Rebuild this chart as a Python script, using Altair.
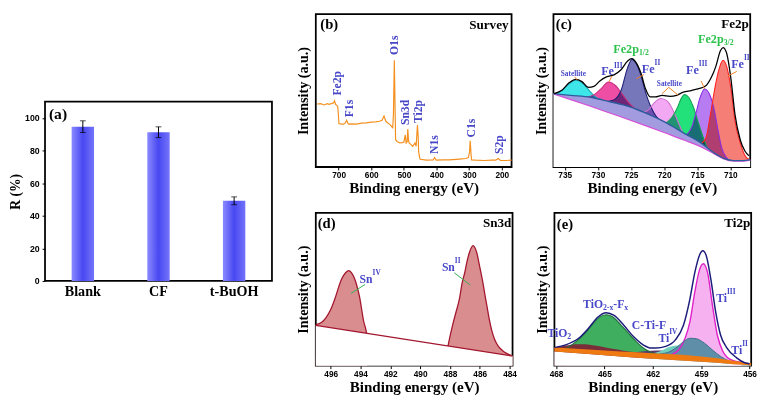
import altair as alt
import pandas as pd

SERIF = "Liberation Serif"
SANS = "Liberation Sans"
LBLUE = "#4747c8"
FRAME = alt.ViewBackground(stroke="black", strokeWidth=1.8, fill="white")

# ---------------- (a) removal efficiency ----------------
a_cats = ["Blank", "CF", "t-BuOH"]
a_vals = [94.7, 91.3, 49.2]
a_errs = [3.6, 3.3, 2.4]

# ---------------- (b) survey spectrum ----------------
b_e = [766, 755, 744, 735, 729.6, 720, 715, 712.7, 709, 706.8, 703, 701, 699, 692, 685,
       680, 675.4, 672, 669.5, 660, 646, 630, 616, 600, 586.7, 575, 566.9, 561, 555, 548,
       541, 536, 534.3, 532, 529.3, 527, 525.4, 520, 512.6, 505, 499.8, 496, 493, 490, 488,
       486, 484, 478, 473, 466, 462.4, 460, 458.4, 456, 455, 452, 450, 430.8, 410, 406,
       401, 380, 361.8, 340, 322.2, 310, 302.6, 299, 296.7, 294, 292.6, 280, 253.3, 230, 218.6,
       210.8, 204, 190, 170]
b_i = [64.7, 65, 63.7, 65, 64.3, 65.3, 66, 68, 64, 63.7, 62.3, 55, 44.7, 44, 44,
       45, 48, 45, 44, 44.3, 44, 45, 45.3, 46, 46.3, 47, 48, 52.3, 46.7, 45,
       43, 41, 39.7, 55, 109.7, 60, 28, 26, 24.7, 25, 25.7, 33, 24.7, 26, 39,
       28, 24.7, 23, 21.3, 24.7, 21.3, 35, 43, 30, 16.3, 10, 8, 7, 7.3, 9.7,
       7, 7.3, 7.3, 7.8, 8.3, 8.7, 9.7, 15, 27, 12, 7.3, 7, 6.7, 7, 7,
       8.7, 6.7, 6.7, 7]
b_lab = ["Fe2p", "F1s", "O1s", "Sn3d", "Ti2p", "N1s", "C1s", "S2p"]
b_lab_e = [705.9, 667.5, 529.3, 495, 457.4, 406.2, 294.7, 208.9]
b_lab_y = [86, 60, 125, 56, 57, 23, 40, 23]

# ---------------- (c) Fe2p ----------------
c_bg_e = [736.7, 734.1, 731.1, 728.2, 725.3, 722.3, 719.8, 716.9, 714.4, 712.5, 711.0, 709.5, 708.1, 707.0]
c_bg = [76.7, 75.0, 73.0, 68.3, 63.3, 55.0, 46.7, 35.0, 25.0, 15.0, 9.0, 6.7, 6.7, 7.7]
c_low = [76.5, 70.5, 63.5, 56.5, 49.5, 42.0, 35.5, 28.0, 21.0, 14.0, 8.5, 6.2, 6.2, 7.2]
c_env_e = [736.6, 735.5, 734.3, 733.3, 732.4, 731.4, 730.6, 729.7, 728.7, 727.5, 726.5, 725.5,
           724.85, 724.3, 723.5, 722.8, 722.1, 721.3, 720.3, 719.1, 718.1, 717.1, 715.9, 714.9,
           713.7, 712.9, 712.2, 711.5, 711.1, 710.6, 709.9, 709.3, 708.5, 707.8, 707.2]
c_env = [76.7, 80, 88.3, 91.7, 89.3, 83.3, 84.3, 90, 94.3, 96.7, 101.7, 111,
         113.3, 110, 98.3, 81.7, 73.3, 73.3, 75, 74, 75, 78.3, 80, 81.7,
         85, 93.3, 105, 121.7, 125, 120, 91.7, 55, 28.3, 16.7, 11.7]
c_sat1_e = [736.7, 735.5, 734.5, 733.3, 732.2, 731.3, 730.3, 729.3]
c_sat1 = [76, 79.5, 86, 90.7, 87, 80, 73, 70]
c_fe3a_e = [731.8, 730.6, 729.5, 728.4, 727.3, 726.3, 725.3, 724.3, 723.3]
c_fe3a = [73, 75.5, 82, 89, 85, 76, 67, 60.5, 57]
c_fe2a_e = [728.6, 727.5, 726.5, 725.5, 724.85, 724.2, 723.5, 722.8, 722.0, 721.2, 720.3]
c_fe2a = [68.5, 70.5, 80, 104, 112.5, 108, 96, 78, 63, 53, 47]
c_sat2_e = [723.2, 722.3, 721.5, 720.5, 719.5, 718.7, 718.0, 717.2]
c_sat2 = [57, 60, 67, 71.7, 69, 60, 49, 36]
c_grn_e = [719.7, 718.8, 718.0, 717.4, 716.9, 716.3, 715.6, 714.9, 714.2, 713.5]
c_grn = [46, 52, 62, 72, 75.7, 73, 63, 48, 33, 20]
c_fe3b_e = [716.6, 715.8, 715.2, 714.6, 713.9, 713.2, 712.5, 711.9, 711.3, 710.6, 709.9]
c_fe3b = [33.5, 42, 56, 72, 81.7, 77, 62, 40, 20, 10, 6.5]
c_fe2b_e = [714.4, 713.7, 713.0, 712.4, 711.8, 711.1, 710.5, 709.9, 709.3, 708.5, 707.6, 707.0]
c_fe2b = [24.5, 30, 55, 80, 100, 111.7, 104, 81.7, 48.3, 25, 10, 7.5]

# ---------------- (d) Sn3d ----------------
d_bg_e = [497.0, 483.8]
d_bg = [41.7, 10.0]
d_sn4_e = [497.0, 496.6, 496.3, 496.0, 495.7, 495.45, 495.25, 495.0, 494.8, 494.6, 494.4,
           494.2, 494.05, 493.9, 493.8, 493.65, 493.55]
d_sn4 = [42.5, 45, 50, 58, 70, 82, 90, 96, 98.3, 96, 90, 80, 70, 56, 46.7, 38, 30]
d_sn2_e = [488.15, 488.0, 487.8, 487.6, 487.35, 487.2, 487.0, 486.85, 486.7, 486.45, 486.2,
           486.0, 485.8, 485.65, 485.5, 485.35, 485.2, 485.0, 484.75, 484.5, 484.2, 483.8]
d_sn2 = [19, 30, 43.3, 55, 70, 84, 96.7, 108, 116.7, 124, 116.7, 102, 86.7, 73, 60, 47,
         36.7, 27, 20, 16, 12.7, 10.3]

# ---------------- (e) Ti2p ----------------
e_bg_e = [468.1, 466.0, 464.0, 462.0, 460.0, 458.0, 457.0, 455.9]
e_bg_top = [18.5, 16.5, 14.5, 12.8, 11.0, 7.5, 5.0, 2.6]
e_bg_low = [14.5, 12.0, 9.5, 7.0, 5.0, 3.0, 1.5, 0.5]
e_env_e = [468.06, 467.4, 466.6, 466.0, 465.4, 464.9, 464.4, 463.8, 463.2, 462.6, 462.1, 461.8,
           461.2, 460.6, 460.1, 459.7, 459.4, 459.1, 458.9, 458.7, 458.4, 458.1, 457.8, 457.4,
           456.8, 456.3, 456.0]
e_env = [18.7, 21.3, 28, 38, 49.7, 54, 51.3, 41.3, 29.7, 21.3, 18, 18,
         19.7, 26.3, 41.3, 68, 94.7, 113, 117.3, 113, 88, 54.7, 31.3, 18,
         8, 3, 2]
e_tio2_e = [468.1, 467.4, 466.8, 466.2, 465.6, 465.0, 464.4, 463.8, 463.2, 462.6]
e_tio2 = [18.5, 20.5, 22, 22, 20.5, 18.8, 17, 15.3, 14, 12.6]
e_grn_e = [467.4, 466.8, 466.2, 465.7, 465.3, 464.9, 464.5, 464.0, 463.5, 463.0, 462.5, 462.0, 461.5]
e_grn = [17, 24, 33, 43, 49.5, 52, 50, 42, 33, 24, 17, 13, 11]
e_ctf_e = [463.2, 462.4, 461.8, 461.2, 460.6, 460.0, 459.4]
e_ctf = [13.5, 15, 15.5, 15, 13.5, 11.5, 9]
e_teal_e = [462.0, 461.5, 461.0, 460.5, 460.0, 459.5, 459.0]
e_teal = [12.5, 15, 19, 20.5, 18, 13, 9]
e_ti4_e = [461.6, 461.0, 460.5, 460.1, 459.7, 459.3, 458.8, 458.3, 457.8, 457.3]
e_ti4 = [12, 14, 19, 24.5, 28, 27.5, 23, 16, 9.5, 5]
e_ti3_e = [460.8, 460.4, 460.0, 459.7, 459.4, 459.1, 458.87, 458.6, 458.3, 458.0, 457.66,
           457.36, 456.96, 456.5]
e_ti3 = [11.5, 16, 28, 44.7, 74.7, 98, 104, 94.7, 61.3, 31.3, 14.7, 8, 5, 3.5]


# ---------------- helpers ----------------
def xenc(domain, ticks):
    return alt.X("e:Q", scale=alt.Scale(domain=domain, nice=False, zero=False),
                 axis=alt.Axis(values=ticks, title="Binding energy (eV)", format="d",
                               labelFont=SANS, labelFontWeight="bold", labelFontSize=8.5,
                               labelColor="black", tickColor="black", tickSize=3, tickWidth=1,
                               labelPadding=1, titleFont=SERIF, titleFontSize=15.5,
                               titleFontWeight="bold", titleColor="black", titlePadding=2,
                               domain=False, grid=False))


def yenc(top):
    return alt.Y("y:Q", scale=alt.Scale(domain=[0, top], nice=False, zero=False),
                 axis=alt.Axis(title="Intensity (a.u.)", labels=False, ticks=False, domain=False,
                               grid=False, titleFont=SERIF, titleFontSize=14.5,
                               titleFontWeight="bold", titleColor="black", titlePadding=5))


def fill(e, y, color, X, Y, blend=None):
    kw = dict(color=color, interpolate="monotone")
    if blend:
        kw["blend"] = blend
    return alt.Chart(pd.DataFrame({"e": e, "y": y})).mark_area(**kw).encode(x=X, y=Y)


def line(e, y, color, X, Y, width=1.2, interp="monotone"):
    return alt.Chart(pd.DataFrame({"e": e, "y": y})).mark_line(
        color=color, strokeWidth=width, interpolate=interp).encode(x=X, y=Y)


def band(e, lo, hi, color, X, Y):
    df = pd.DataFrame({"e": e, "y": hi, "y2": lo})
    return alt.Chart(df).mark_area(color=color, interpolate="monotone").encode(
        x=X, y=Y, y2="y2:Q")


def texts(e, y, t, X, Y, size, color="black", align="center", angle=0, dy=0, font=SERIF):
    df = pd.DataFrame({"e": e, "y": y, "t": t})
    return alt.Chart(df).mark_text(font=font, fontWeight="bold", fontSize=size, color=color,
                                   align=align, baseline="middle", angle=angle, dy=dy).encode(
        x=X, y=Y, text="t:N")


def segs(e, y, e2, y2, color, X, Y):
    df = pd.DataFrame({"e": e, "y": y, "e2": e2, "y2": y2})
    return alt.Chart(df).mark_rule(color=color, strokeWidth=1).encode(
        x=X, y=Y, x2="e2:Q", y2="y2:Q")


# ---------------- panel (a) ----------------
dfa = pd.DataFrame({"cat": a_cats, "v": a_vals,
                    "lo": [v - s for v, s in zip(a_vals, a_errs)],
                    "hi": [v + s for v, s in zip(a_vals, a_errs)]})
Xa = alt.X("cat:N", sort=a_cats, scale=alt.Scale(paddingInner=0, paddingOuter=0),
           axis=alt.Axis(title=None, labelAngle=0, labelFont=SERIF, labelFontWeight="bold",
                         labelFontSize=14.5, labelColor="black", ticks=False, domain=False,
                         labelPadding=4))


def ya(field):
    return alt.Y(f"{field}:Q", scale=alt.Scale(domain=[0, 110], nice=False),
                 axis=alt.Axis(values=[0, 20, 40, 60, 80, 100], title="R (%)", titleFont=SERIF,
                               titleFontSize=14, titleFontWeight="bold", titleColor="black",
                               labelFont=SANS, labelFontWeight="bold", labelFontSize=9,
                               labelColor="black", tickSize=3, tickColor="black",
                               labelPadding=3, titlePadding=2, domain=False, grid=False))


grad = alt.LinearGradient(gradient="linear", x1=0, x2=1, y1=0, y2=0,
                          stops=[alt.GradientStop(color="#8a8aff", offset=0),
                                 alt.GradientStop(color="#4848f2", offset=0.5),
                                 alt.GradientStop(color="#7474fa", offset=1)])
bars = alt.Chart(dfa).mark_bar(size=23, color=grad).encode(x=Xa, y=ya("v"))
err = alt.Chart(dfa).mark_rule(color="black", strokeWidth=1).encode(x=Xa, y=ya("lo"), y2="hi:Q")
cap_lo = alt.Chart(dfa).mark_tick(color="black", thickness=1, size=6).encode(x=Xa, y=ya("lo"))
cap_hi = alt.Chart(dfa).mark_tick(color="black", thickness=1, size=6).encode(x=Xa, y=ya("hi"))
lab_a = alt.Chart(pd.DataFrame({"y": [102.5], "t": ["(a)"]})).mark_text(
    font=SERIF, fontWeight="bold", fontSize=16, align="left", baseline="middle",
    color="black").encode(x=alt.value(4), y=ya("y"), text="t:N")
panel_a = alt.layer(bars, err, cap_lo, cap_hi, lab_a).properties(
    width=233, height=184, view=FRAME)

spacer = alt.Chart(pd.DataFrame({"e": [0]})).mark_point(opacity=0, size=1).encode(
    x=alt.value(5), y=alt.value(40)).properties(
    width=10, height=89, view=alt.ViewBackground(strokeOpacity=0))
left_col = alt.vconcat(spacer, panel_a, spacing=0)

# ---------------- panel (b) ----------------
Xb = xenc([770, 170], [700, 600, 500, 400, 300, 200])
Yb = yenc(157)
panel_b = alt.layer(
    line(b_e, b_i, "#f3901f", Xb, Yb, width=1.2, interp="linear"),
    texts(b_lab_e, b_lab_y, b_lab, Xb, Yb, 12, color=LBLUE, angle=270),
    texts([756.2], [147], ["(b)"], Xb, Yb, 15, align="left"),
    texts([179.3], [146], ["Survey"], Xb, Yb, 13.5, align="right"),
).properties(width=201, height=157, view=FRAME)

# ---------------- panel (c) ----------------
Xc = xenc([736.7, 707.0], [735, 730, 725, 720, 715, 710])
Yc = yenc(160)
c_comps = [
    (c_sat1_e, c_sat1, "#3ee6ea", "#1aa8b8"),
    (c_fe3a_e, c_fe3a, "#ee4fa4", "#c8307c"),
    (c_fe2a_e, c_fe2a, "#7676ba", "#1f1f78"),
    (c_sat2_e, c_sat2, "#f2a8f2", "#d070d0"),
    (c_grn_e, c_grn, "#22e07a", "#12a050"),
    (c_fe3b_e, c_fe3b, "#b87cf2", "#8a2be2"),
    (c_fe2b_e, c_fe2b, "#f57f76", "#ff2020"),
]
c_layers = [fill(e, y, f, Xc, Yc, blend="multiply") for e, y, f, s in c_comps]
c_layers += [line(e, y, s, Xc, Yc, width=1.1) for e, y, f, s in c_comps]
c_layers += [
    band(c_bg_e, [0] * len(c_bg_e), c_low, "white", Xc, Yc),
    band(c_bg_e, c_low, c_bg, "#a39be0", Xc, Yc),
    line(c_bg_e, c_low, "#d850d8", Xc, Yc, width=1.2),
    line(c_bg_e, c_bg, "#2d5b9b", Xc, Yc, width=1.4),
    line(c_env_e, c_env, "black", Xc, Yc, width=1.3),
    segs([733.5, 727.9, 723.04, 719.3, 719.3, 714.4, 709.03],
         [94.3, 95, 96.7, 83.3, 83.3, 90, 100],
         [733.1, 728.3, 724.18, 720.3, 717.85, 713.9, 710.4],
         [91, 89, 92.3, 76.7, 75, 81.7, 95], "#f08020", Xc, Yc),
    texts([736.35], [150], ["(c)"], Xc, Yc, 15, align="left"),
    texts([707.2], [150], ["Fe2p"], Xc, Yc, 13.5, align="right"),
    texts([723.8, 711.0], [123.3, 133.3], ["Fe2p", "Fe2p"], Xc, Yc, 12.5, color="#2cc24c", align="right"),
    texts([723.8, 711.0], [123.3, 133.3], ["1/2", "3/2"], Xc, Yc, 8, color="#2cc24c", align="left", dy=4),
    texts([727.56, 721.43, 714.76, 707.94], [100, 102.7, 101.7, 107.7], ["Fe", "Fe", "Fe", "Fe"],
          Xc, Yc, 12.5, color=LBLUE, align="right"),
    texts([727.56, 721.43, 714.76, 707.94], [100, 102.7, 101.7, 107.7], ["III", "II", "III", "II"],
          Xc, Yc, 7.5, color=LBLUE, align="left", dy=-6),
    texts([733.7, 719.2], [97, 86.5], ["Satellite", "Satellite"], Xc, Yc, 7.5, color=LBLUE),
]
panel_c = alt.layer(*c_layers).properties(width=202, height=157, view=FRAME)

# ---------------- panel (d) ----------------
Xd = xenc([497.0, 483.8], [496, 494, 492, 490, 488, 486, 484])
Yd = yenc(158)
panel_d = alt.layer(
    fill(d_sn4_e, d_sn4, "#d98d8f", Xd, Yd),
    fill(d_sn2_e, d_sn2, "#d98d8f", Xd, Yd),
    line(d_sn4_e, d_sn4, "#a3162e", Xd, Yd, width=1.3),
    line(d_sn2_e, d_sn2, "#a3162e", Xd, Yd, width=1.3),
    band(d_bg_e, [0, 0], d_bg, "white", Xd, Yd),
    line(d_bg_e, d_bg, "#a3162e", Xd, Yd, width=1.3, interp="linear"),
    segs([493.69, 487.71], [84, 96], [494.64, 486.63], [74.7, 83.3], "#2fb050", Xd, Yd),
    texts([496.87], [147.3], ["(d)"], Xd, Yd, 15, align="left"),
    texts([483.88], [147.3], ["Sn3d"], Xd, Yd, 13.5, align="right"),
    texts([493.19, 487.67], [89.3, 101.7], ["Sn", "Sn"], Xd, Yd, 12, color=LBLUE, align="right"),
    texts([493.19, 487.67], [89.3, 101.7], ["IV", "II"], Xd, Yd, 7.5, color=LBLUE, align="left", dy=-6),
).properties(width=202, height=157, view=FRAME)

# ---------------- panel (e) ----------------
Xe = xenc([468.1, 455.9], [468, 465, 462, 459, 456])
Ye = yenc(156)
panel_e = alt.layer(
    fill(e_grn_e, e_grn, "#3fae5e", Xe, Ye),
    fill(e_tio2_e, e_tio2, "#7a2e3a", Xe, Ye),
    fill(e_ti3_e, e_ti3, "#f6b2f0", Xe, Ye),
    fill(e_ctf_e, e_ctf, "#5a3a72", Xe, Ye),
    fill(e_teal_e, e_teal, "#72cfc0", Xe, Ye),
    fill(e_ti4_e, e_ti4, "#5f8fa8", Xe, Ye),
    line(e_grn_e, e_grn, "#1f6e3a", Xe, Ye, width=1.1),
    line(e_ti3_e, e_ti3, "#e01fc8", Xe, Ye, width=1.4),
    line(e_ti4_e, e_ti4, "#3f6f88", Xe, Ye, width=1.0),
    band(e_bg_e, [0] * len(e_bg_e), e_bg_low, "white", Xe, Ye),
    band(e_bg_e, e_bg_low, e_bg_top, "#f07a12", Xe, Ye),
    line(e_env_e, e_env, "#1b1b7a", Xe, Ye, width=1.5),
    texts([467.95], [144.7], ["(e)"], Xe, Ye, 15, align="left"),
    texts([455.95], [145], ["Ti2p"], Xe, Ye, 13.5, align="right"),
    texts([467.3, 465.09, 460.98, 457.4, 456.46], [33, 63, 28, 68.7, 16.3],
          ["TiO", "TiO", "Ti", "Ti", "Ti"], Xe, Ye, 12, color=LBLUE, align="right"),
    texts([464.45], [63], ["-F"], Xe, Ye, 12, color=LBLUE, align="left"),
    texts([462.24], [41.3], ["C-Ti-F"], Xe, Ye, 12, color=LBLUE),
    texts([467.3, 465.09, 463.77], [33, 63, 63], ["2", "2-x", "x"], Xe, Ye, 8, color=LBLUE,
          align="left", dy=4),
    texts([460.98, 457.4, 456.46], [28, 68.7, 16.3], ["IV", "III", "II"], Xe, Ye, 7.5,
          color=LBLUE, align="left", dy=-6),
).properties(width=202, height=157, view=FRAME)

row1 = alt.hconcat(panel_b, panel_c, spacing=18)
row2 = alt.hconcat(panel_d, panel_e, spacing=17)
right_block = alt.vconcat(row1, row2, spacing=15)

chart = alt.hconcat(left_col, right_block, spacing=23, padding=0, background="white")
chart = chart.configure(padding=0).configure_view(stroke="black", strokeWidth=1.8)

chart.save("out.html", embed_options={"renderer": "svg", "actions": False})
